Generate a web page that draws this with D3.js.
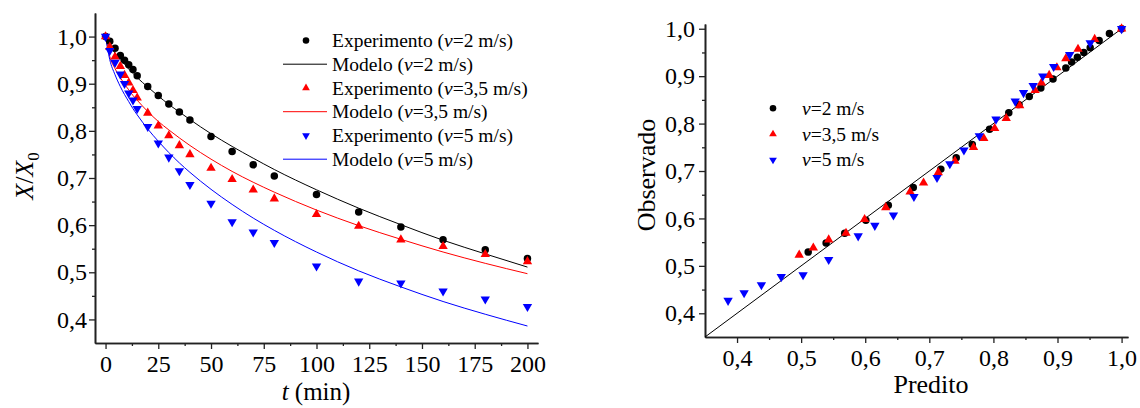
<!DOCTYPE html>
<html>
<head>
<meta charset="utf-8">
<script src="https://cdn.jsdelivr.net/npm/d3@7"></script>
<style>
	body { margin: 0; background: #fff; }
	svg { display: block; }
	svg text { font-family: "Liberation Serif", "Times New Roman", serif; }
	svg .tick text { font-size: 24px; }
</style>
</head>
<body>
<div id="my_dataviz"></div>
<script>
// tempos de medida (min)
const TEMPO = [0, 2, 4.5, 7, 9, 11, 13, 15, 20, 25, 30, 35, 40, 50, 60, 70, 80, 100, 120, 140, 160, 180, 200];

const EXP_V2 = [1.0, 0.99, 0.975, 0.96, 0.95, 0.94, 0.93, 0.917, 0.894, 0.875, 0.857, 0.84, 0.823, 0.788, 0.756, 0.728, 0.704, 0.665, 0.628, 0.596, 0.569, 0.548, 0.529];
const MOD_V2 = [1.0, 0.981, 0.965, 0.951, 0.941, 0.931, 0.922, 0.913, 0.893, 0.874, 0.856, 0.84, 0.824, 0.794, 0.767, 0.742, 0.718, 0.675, 0.636, 0.601, 0.568, 0.539, 0.511];

const EXP_V35 = [1.0, 0.978, 0.957, 0.937, 0.918, 0.902, 0.886, 0.87, 0.838, 0.811, 0.79, 0.769, 0.75, 0.721, 0.697, 0.675, 0.656, 0.623, 0.598, 0.569, 0.555, 0.538, 0.523];
const MOD_V35 = [1.0, 0.958, 0.932, 0.913, 0.899, 0.887, 0.875, 0.865, 0.841, 0.82, 0.802, 0.785, 0.769, 0.74, 0.714, 0.691, 0.67, 0.632, 0.599, 0.57, 0.543, 0.519, 0.497];

const EXP_V5 = [1.0, 0.97, 0.945, 0.92, 0.9, 0.88, 0.865, 0.847, 0.809, 0.774, 0.744, 0.715, 0.686, 0.646, 0.607, 0.585, 0.563, 0.513, 0.481, 0.477, 0.46, 0.443, 0.427];
const MOD_V5 = [1.0, 0.951, 0.919, 0.894, 0.877, 0.862, 0.847, 0.834, 0.804, 0.778, 0.754, 0.732, 0.712, 0.676, 0.644, 0.615, 0.589, 0.543, 0.503, 0.469, 0.438, 0.411, 0.386];

const VELOCIDADES = ["2", "3,5", "5"];

// ticks
const T_TICKS = [0, 25, 50, 75, 100, 125, 150, 175, 200];
const T_MINOR = [12.5, 37.5, 62.5, 87.5, 112.5, 137.5, 162.5, 187.5];
const X_TICKS = [0.4, 0.5, 0.6, 0.7, 0.8, 0.9, 1.0];
const X_MINOR = [0.45, 0.55, 0.65, 0.75, 0.85, 0.95];
const DIAGONAL = [0.35, 1.0];

var series = [
	{ exp: EXP_V2, mod: MOD_V2, color: "#000000", shape: "circle" },
	{ exp: EXP_V35, mod: MOD_V35, color: "#ff0000", shape: "up" },
	{ exp: EXP_V5, mod: MOD_V5, color: "#0000ff", shape: "down" },
];

var W = 1140, H = 408;
var svg = d3.select("#my_dataviz").append("svg").attr("width", W).attr("height", H);

var virgula = d3.formatLocale({ decimal: ",", thousands: ".", grouping: [3], currency: ["", ""] });
var fmt1 = virgula.format(".1f");
var SERIF = "Liberation Serif";

function marker(g, shape, color, size) {
	var sym = shape === "circle" ? d3.symbolCircle : d3.symbolTriangle;
	return g.append("path")
		.attr("d", d3.symbol().type(sym).size(size)())
		.attr("fill", color)
		.attr("transform", shape === "down" ? "rotate(180)" : null);
}

function styleAxis(a) {
	a.attr("font-family", SERIF).attr("font-size", 24);
	a.selectAll(".domain").attr("stroke", "#222").attr("stroke-width", 1.6);
	a.selectAll(".tick line").attr("stroke", "#222").attr("stroke-width", 1.3);
	a.selectAll(".tick text")
		.attr("font-family", SERIF)
		.attr("font-size", 24)
		.attr("fill", "#000");
}

function drawAxes(x, y, xTicks, xMinor, xFmt, yTicks, yMinor, yPad) {
	var x0 = x.range()[0], y0 = y.range()[0];
	var b = "translate(0," + y0 + ")", l = "translate(" + x0 + ",0)";
	var axes = [
		svg.append("g").attr("transform", b)
			.call(d3.axisBottom(x).tickValues(xMinor).tickSize(3).tickSizeOuter(0).tickFormat("")),
		svg.append("g").attr("transform", b)
			.call(d3.axisBottom(x).tickValues(xTicks).tickSize(6).tickSizeOuter(0).tickPadding(6).tickFormat(xFmt)),
		svg.append("g").attr("transform", l)
			.call(d3.axisLeft(y).tickValues(yMinor).tickSize(3).tickSizeOuter(0).tickFormat("")),
		svg.append("g").attr("transform", l)
			.call(d3.axisLeft(y).tickValues(yTicks).tickSize(6).tickSizeOuter(0).tickPadding(yPad).tickFormat(fmt1)),
	];
	axes.forEach(function (a) { styleAxis(a); });
}

// ---------- grafico da esquerda ----------
var xL = d3.scaleLinear().domain([-5, 205]).range([95, 538]);
var yL = d3.scaleLinear().domain([0.35, 1.05]).range([343, 13]);

drawAxes(xL, yL, T_TICKS, T_MINOR, d3.format("d"), X_TICKS, X_MINOR, 2);

var linha = d3.line()
	.x(function (d) { return xL(d[0]); })
	.y(function (d) { return yL(d[1]); })
	.curve(d3.curveMonotoneX);

series.forEach(function (s) {
	svg.append("path")
		.datum(TEMPO.map(function (t, i) { return [t, s.mod[i]]; }))
		.attr("d", linha)
		.attr("fill", "none")
		.attr("stroke", s.color)
		.attr("stroke-width", 1);
});

series.forEach(function (s) {
	TEMPO.forEach(function (t, i) {
		var g = svg.append("g").attr("transform", "translate(" + xL(t) + "," + yL(s.exp[i]) + ")");
		marker(g, s.shape, s.color, s.shape === "circle" ? 44 : 38);
	});
});

// titulos dos eixos
var ty = svg.append("text")
	.attr("transform", "translate(33,176) rotate(-90)")
	.attr("text-anchor", "middle")
	.attr("font-size", 26);
ty.append("tspan").attr("font-style", "italic").text("X");
ty.append("tspan").text("/");
ty.append("tspan").attr("font-style", "italic").text("X");
ty.append("tspan").attr("font-size", 17).attr("dy", 6).text("0");

var tx = svg.append("text")
	.attr("x", 316)
	.attr("y", 400)
	.attr("text-anchor", "middle")
	.attr("font-size", 25);
tx.append("tspan").attr("font-style", "italic").text("t");
tx.append("tspan").text(" (min)");

// legenda esquerda
function legLabel(g, prefix, v) {
	var t = g.append("text").attr("x", 26).attr("y", 6.5).attr("font-size", 19.5);
	t.append("tspan").text(prefix + "(");
	t.append("tspan").attr("font-style", "italic").text("v");
	t.append("tspan").text("=" + v + " m/s)");
}

series.forEach(function (s, i) {
	var ge = svg.append("g").attr("transform", "translate(306," + (40.5 + i * 47.5) + ")");
	marker(ge, s.shape, s.color, s.shape === "circle" ? 34 : 26);
	legLabel(ge, "Experimento ", VELOCIDADES[i]);
	var gm = svg.append("g").attr("transform", "translate(306," + (64.2 + i * 47.5) + ")");
	gm.append("line").attr("x1", -23).attr("x2", 21).attr("stroke", s.color).attr("stroke-width", 1);
	legLabel(gm, "Modelo ", VELOCIDADES[i]);
});

// ---------- grafico da direita ----------
var xR = d3.scaleLinear().domain([0.35, 1.01]).range([705, 1128]);
var yR = d3.scaleLinear().domain([0.35, 1.01]).range([337, 24]);

drawAxes(xR, yR, X_TICKS, X_MINOR, fmt1, X_TICKS, X_MINOR, 4);

svg.append("line")
	.attr("x1", xR(DIAGONAL[0])).attr("y1", yR(DIAGONAL[0]))
	.attr("x2", xR(DIAGONAL[1])).attr("y2", yR(DIAGONAL[1]))
	.attr("stroke", "#000").attr("stroke-width", 1);

series.forEach(function (s) {
	s.mod.forEach(function (m, i) {
		var g = svg.append("g").attr("transform", "translate(" + xR(m) + "," + yR(s.exp[i]) + ")");
		marker(g, s.shape, s.color, s.shape === "circle" ? 44 : 38);
	});
});

svg.append("text")
	.attr("transform", "translate(655,175) rotate(-90)")
	.attr("text-anchor", "middle")
	.attr("font-size", 26)
	.text("Observado");

svg.append("text")
	.attr("x", 931)
	.attr("y", 393)
	.attr("text-anchor", "middle")
	.attr("font-size", 26)
	.text("Predito");

// legenda direita
series.forEach(function (s, i) {
	var g = svg.append("g").attr("transform", "translate(773," + (108.3 + i * 25.8) + ")");
	marker(g, s.shape, s.color, s.shape === "circle" ? 34 : 26);
	var t = g.append("text").attr("x", 29).attr("y", 6.5).attr("font-size", 19.5);
	t.append("tspan").attr("font-style", "italic").text("v");
	t.append("tspan").text("=" + VELOCIDADES[i] + " m/s");
});
</script>
</body>
</html>
